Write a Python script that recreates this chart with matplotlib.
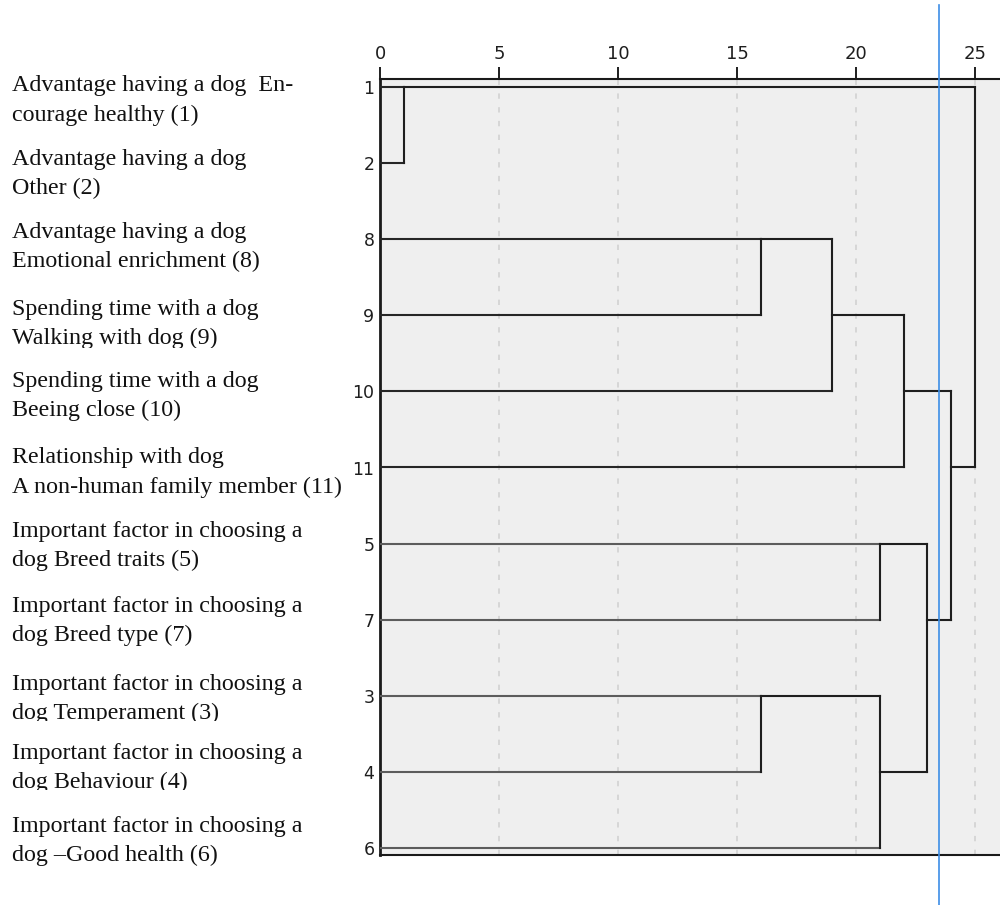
import matplotlib
matplotlib.use("Agg")
import matplotlib.pyplot as plt
from matplotlib import transforms
from matplotlib.patches import Rectangle

# ---- data -------------------------------------------------------------
# variables in dendrogram order, top to bottom
leaf_ids = [1, 2, 8, 9, 10, 11, 5, 7, 3, 4, 6]
leaf_labels = [
    "Advantage having a dog  En-\ncourage healthy (1)",
    "Advantage having a dog\nOther (2)",
    "Advantage having a dog\nEmotional enrichment (8)",
    "Spending time with a dog\nWalking with dog (9)",
    "Spending time with a dog\nBeeing close (10)",
    "Relationship with dog\nA non-human family member (11)",
    "Important factor in choosing a\ndog Breed traits (5)",
    "Important factor in choosing a\ndog Breed type (7)",
    "Important factor in choosing a\ndog Temperament (3)",
    "Important factor in choosing a\ndog Behaviour (4)",
    "Important factor in choosing a\ndog \u2013Good health (6)",
]

# agglomeration schedule (rescaled distance cluster combine)
merge_a = [(1,), (8,), (3,), (8, 9), (5,), (3, 4), (8, 9, 10), (5, 7),
           (8, 9, 10, 11), (1, 2)]
merge_b = [(2,), (9,), (4,), (10,), (7,), (6,), (11,), (3, 4, 6),
           (5, 7, 3, 4, 6), (8, 9, 10, 11, 5, 7, 3, 4, 6)]
merge_dist = [1, 16, 16, 19, 21, 21, 22, 23, 24, 25]

x_ticks = [0, 5, 10, 15, 20, 25]
cut_level = 23.5

# ---- layout -----------------------------------------------------------
W, H = 1000, 905
label_center_px = [100.5, 174, 247, 324, 396, 472.5, 546, 621, 699, 768, 841]
label_clip_px = {9: 348, 3: 721, 4: 790}

fig = plt.figure(figsize=(W / 100, H / 100), dpi=100)
fig.patch.set_facecolor("white")

ax_left, ax_top, ax_bottom = 380, 79, 855
ax = fig.add_axes([ax_left / W, 1 - ax_bottom / H, 1 - ax_left / W,
                   (ax_bottom - ax_top) / H])
ax.set_facecolor("#efefef")

n = len(leaf_ids)
row_px = (848 - 87) / (n - 1)
ax.set_ylim(n - 1 + (ax_bottom - 848) / row_px, -(87 - ax_top) / row_px)
ax.set_xlim(0, (W - ax_left) / (975 - ax_left) * 25)

# dashed reference lines
for t in x_ticks[1:]:
    ax.axvline(t, color="#cfcfcf", lw=1.1, ls=(0, (3.5, 5.5)), zorder=1)

# ---- dendrogram -------------------------------------------------------
upper_col = "#262626"
lower_col = "#5c5c5c"
merge_col = "#1e1e1e"
lw = 1.5

clusters = {}
for i, leaf in enumerate(leaf_ids):
    clusters[frozenset([leaf])] = (i, 0.0)

for a, b, d in zip(merge_a, merge_b, merge_dist):
    ka, kb = frozenset(a), frozenset(b)
    ra, ha = clusters[ka]
    rb, hb = clusters[kb]
    for key, r, h in ((ka, ra, ha), (kb, rb, hb)):
        if h == 0:
            col = upper_col if r < 6 else lower_col
        else:
            col = merge_col
        ax.plot([h, d], [r, r], color=col, lw=lw, solid_capstyle="projecting",
                zorder=3)
    ax.plot([d, d], [ra, rb], color=merge_col, lw=lw,
            solid_capstyle="projecting", zorder=3)
    clusters[ka | kb] = ((ra + rb) // 2, d)

# ---- axes styling -----------------------------------------------------
ax.xaxis.tick_top()
ax.set_xticks(x_ticks)
ax.set_xticklabels([str(t) for t in x_ticks])
ax.tick_params(axis="x", direction="out", length=8.5, width=1.4, pad=3,
               labelsize=13, colors="#1e1e1e")
ax.set_yticks(range(n))
ax.set_yticklabels([str(v) for v in leaf_ids])
ax.tick_params(axis="y", length=0, pad=4, labelsize=12.5, colors="#1e1e1e")
for lab in ax.get_xticklabels() + ax.get_yticklabels():
    lab.set_family(["Liberation Sans Narrow", "DejaVu Sans"])

ax.spines["right"].set_visible(False)
ax.spines["left"].set_linewidth(2.0)
ax.spines["top"].set_linewidth(1.5)
ax.spines["bottom"].set_linewidth(1.5)
for s in ("left", "top", "bottom"):
    ax.spines[s].set_color("#1a1a1a")

# cut level marker
blend = transforms.blended_transform_factory(ax.transData, fig.transFigure)
ax.plot([cut_level, cut_level], [1 - 5 / H, 0], color="#3d8ee6", lw=1.2,
        transform=blend, clip_on=False, zorder=5)

# ---- variable labels --------------------------------------------------
for leaf, text, yc in zip(leaf_ids, leaf_labels, label_center_px):
    t = fig.text(12 / W, 1 - yc / H, text, ha="left", va="center",
                 family=["Liberation Serif", "DejaVu Serif"], fontsize=17.3,
                 linespacing=1.5, color="#111111")
    if leaf in label_clip_px:
        bottom = label_clip_px[leaf]
        clip = Rectangle((0, 1 - bottom / H), ax_left / W, 200 / H,
                         transform=fig.transFigure, visible=False)
        fig.add_artist(clip)
        t.set_clip_path(clip)
        t.set_clip_on(True)

fig.savefig("out.png", dpi=100)
